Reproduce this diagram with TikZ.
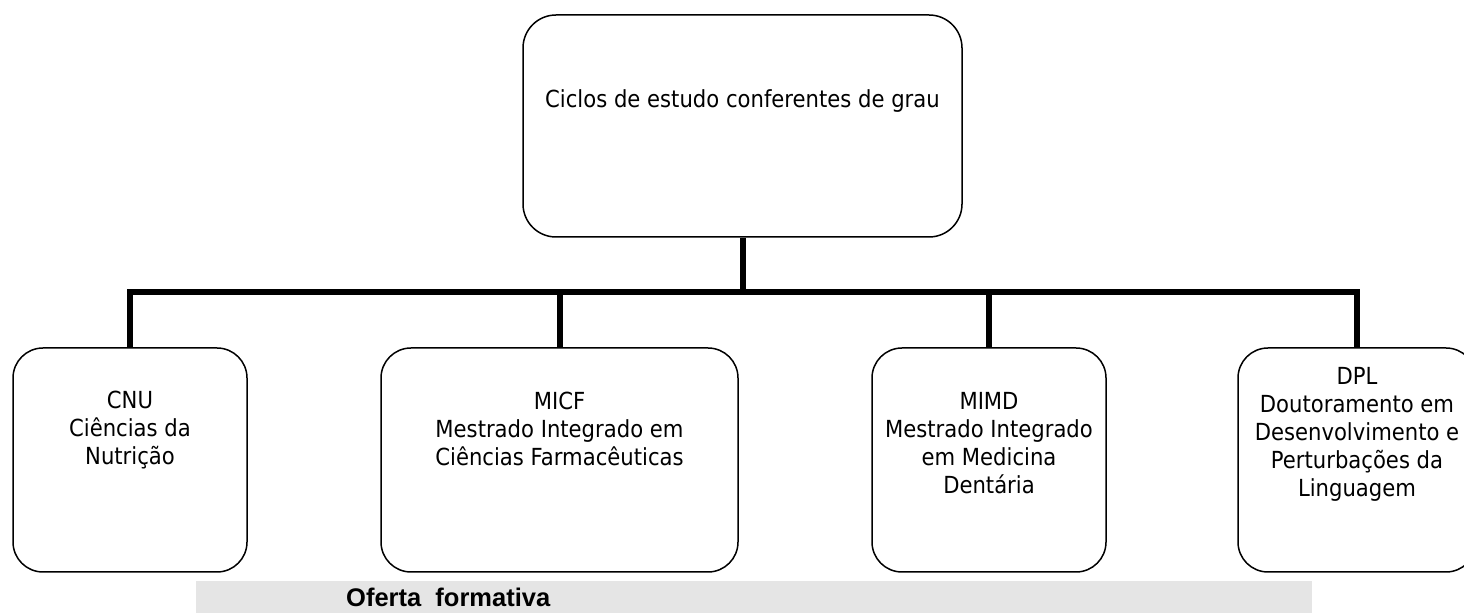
\documentclass[tikz,border=0pt]{standalone}
\usepackage{fontspec}
\setmainfont{DejaVu Sans}[FakeStretch=0.9]
\newfontfamily\bandfont{Liberation Sans}
\begin{document}
\begin{tikzpicture}[x=1pt,y=1pt,
  box/.style={draw=black, line width=1.5pt, rounded corners=30pt, inner sep=0pt, fill=white},
  boxtext/.style={inner sep=0pt, align=center, anchor=north, font=\fontsize{23.5}{28}\selectfont},
  conn/.style={draw=black, line width=6pt}]
\clip (0,0) rectangle (1464,613);
\fill[white] (0,0) rectangle (1464,613);
% gray band
\fill[gray!20] (196,0) rectangle (1312,32);
\node[inner sep=0pt, anchor=base west, font=\bandfont\bfseries\fontsize{25.5}{30}\selectfont] (band) at (346,7) {Oferta\ \ formativa};
% boxes
\node[box, rounded corners=33pt, minimum width=439pt, minimum height=222pt] (top) at (742.5,487) {};
\node[box, minimum width=234pt, minimum height=224pt] (cnu) at (130,153) {};
\node[box, minimum width=357pt, minimum height=224pt] (micf) at (559.5,153) {};
\node[box, minimum width=234pt, minimum height=224pt] (mimd) at (989,153) {};
\node[box, minimum width=238pt, minimum height=224pt] (dpl) at (1357,153) {};
% texts
\node[inner sep=0pt, anchor=base, font=\fontsize{23.5}{28}\selectfont] (toptext) at (742.5,505.7) {Ciclos de estudo conferentes de grau};
\node[boxtext] (cnutext) at ([yshift=-44pt]cnu.north) {CNU\\Ciências da\\Nutrição};
\node[boxtext] (micftext) at ([yshift=-45pt]micf.north) {MICF\\Mestrado Integrado em\\Ciências Farmacêuticas};
\node[boxtext] (mimdtext) at ([yshift=-45pt]mimd.north) {MIMD\\Mestrado Integrado\\em Medicina\\Dentária};
\node[boxtext] (dpltext) at ([yshift=-20pt]dpl.north) {DPL\\Doutoramento em\\Desenvolvimento e\\Perturbações da\\Linguagem};
% connectors
\coordinate (bus) at (742.5,320.5);
\draw[conn] (top.south) -- (bus);
\draw[conn] (cnu.north) |- (bus);
\draw[conn] (micf.north) |- (bus);
\draw[conn] (mimd.north) |- (bus);
\draw[conn] (dpl.north) |- (bus);
\end{tikzpicture}
\end{document}
